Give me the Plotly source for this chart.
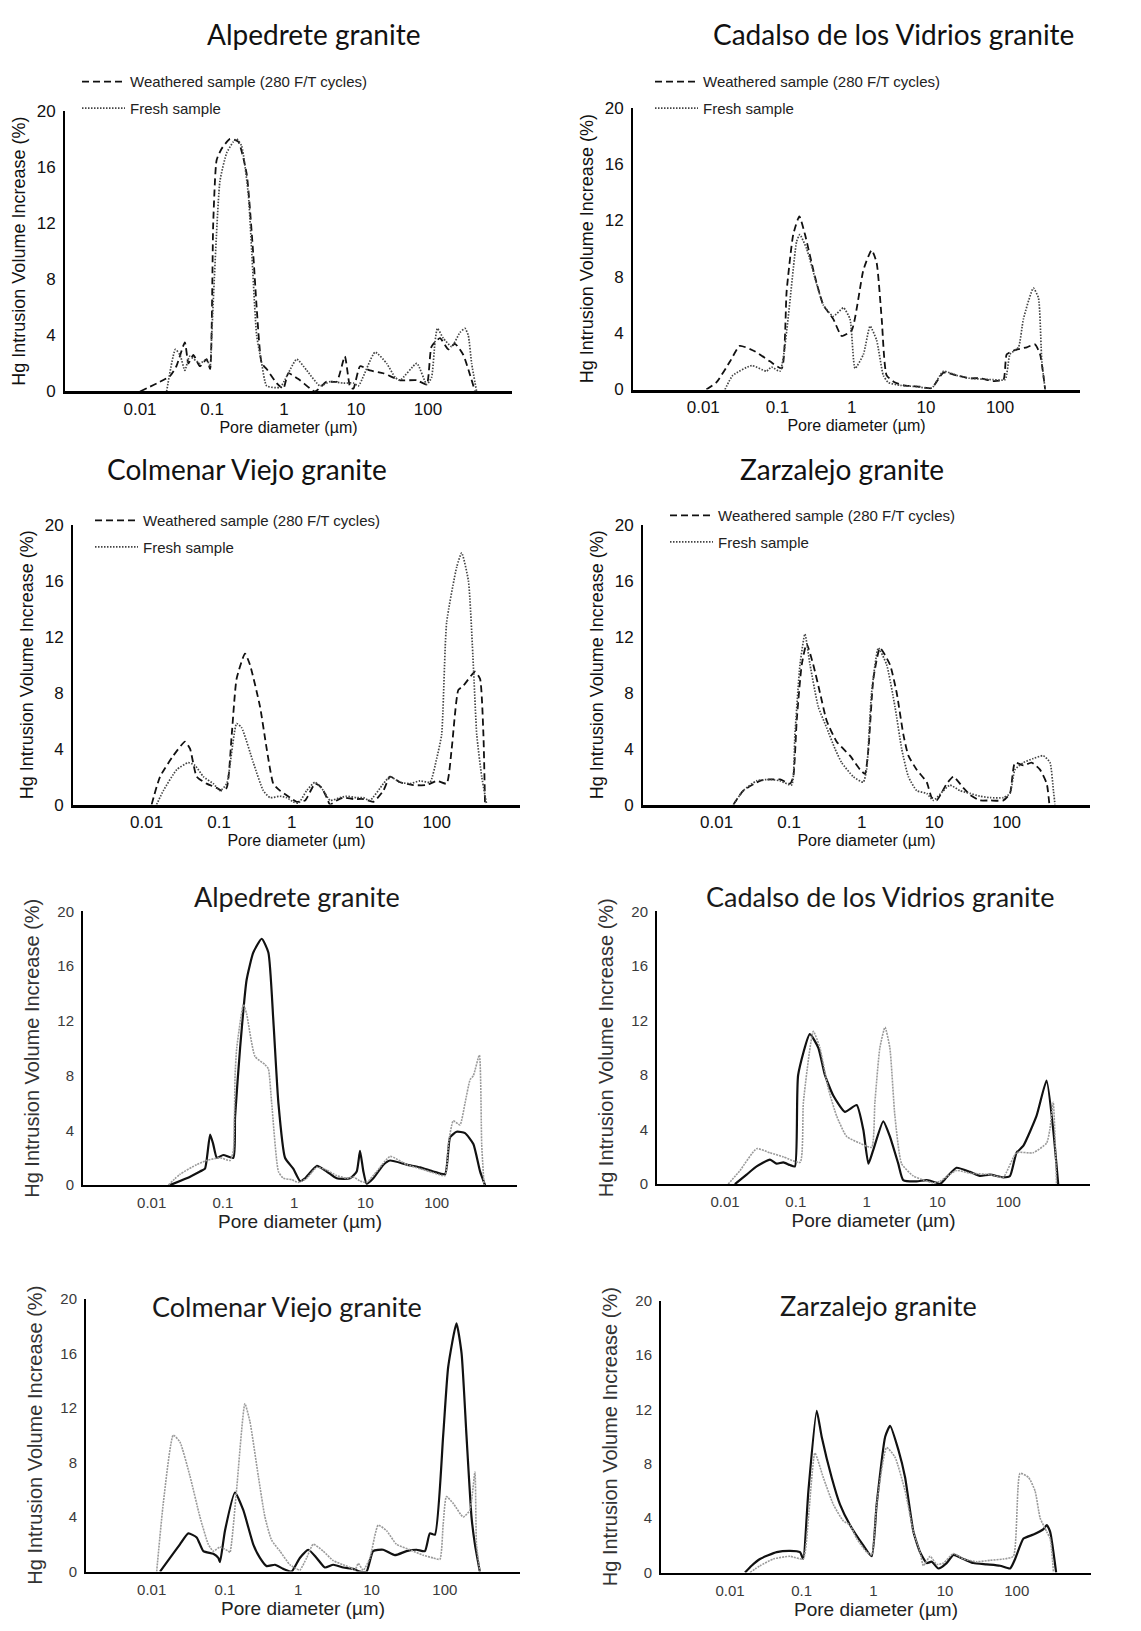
import plotly.graph_objects as go

W, H = 1141, 1631

X_TICKS = [0.01, 0.1, 1, 10, 100]
X_TICKTEXT = ["0.01", "0.1", "1", "10", "100"]
Y_TICKS = [0, 4, 8, 12, 16, 20]
X_LABEL = "Pore diameter (µm)"
Y_LABEL = "Hg Intrusion Volume Increase (%)"
LEG_WEATHERED = "Weathered sample (280 F/T cycles)"
LEG_FRESH = "Fresh sample"

TITLES = ["Alpedrete granite", "Cadalso de los Vidrios granite",
          "Colmenar Viejo granite", "Zarzalejo granite",
          "Alpedrete granite", "Cadalso de los Vidrios granite",
          "Colmenar Viejo granite", "Zarzalejo granite"]

# ---- Panel 1: Alpedrete (top) ----
alp1_w_x = [0.010, 0.026, 0.032, 0.042, 0.047, 0.055, 0.068, 0.084, 0.094, 0.104, 0.116, 0.136, 0.178, 0.232, 0.303, 0.375, 0.417, 0.49, 0.574, 0.79, 0.98, 1.15, 1.67, 2.7, 3.9, 5.4, 7.0, 8.3, 9.2, 11.4, 15.6, 24, 41, 70, 96, 112, 147, 191, 237, 310, 383, 450]
alp1_w_y = [0, 1.1, 1.8, 3.5, 2.0, 2.6, 1.8, 2.3, 1.6, 12, 16.5, 17.3, 18, 17.8, 15.5, 9.7, 6, 2, 1.6, 0.6, 0.2, 1.3, 0.8, 0, 0.7, 0.7, 2.5, 0.3, 0.2, 1.8, 1.5, 1.3, 0.8, 0.8, 0.5, 3.2, 3.8, 3.0, 3.4, 2.6, 1.2, 0]
alp1_f_x = [0.0234, 0.031, 0.036, 0.042, 0.049, 0.068, 0.084, 0.094, 0.099, 0.129, 0.16, 0.198, 0.22, 0.258, 0.32, 0.356, 0.417, 0.49, 0.574, 0.88, 1.5, 2.07, 3.16, 4.35, 6.7, 9.2, 10.8, 18.4, 26.7, 35, 41, 70, 96, 112, 125, 135, 163, 213, 278, 326, 363, 404, 474]
alp1_f_y = [0, 3.0, 2.6, 1.5, 2.5, 2.0, 2.3, 1.8, 4, 15, 17, 17.8, 18, 17.5, 14, 10, 4, 2, 0.4, 0.3, 2.3, 1.5, 0.4, 0.7, 0.6, 0.6, 0.4, 2.8, 2.0, 1.0, 0.8, 2.0, 0.5, 1.0, 3.5, 4.5, 3.8, 3.2, 4.2, 4.5, 4.0, 2.0, 0]

# ---- Panel 2: Cadalso (top) ----
cad1_w_x = [0.011, 0.015, 0.023, 0.031, 0.050, 0.079, 0.114, 0.133, 0.163, 0.197, 0.235, 0.32, 0.415, 0.566, 0.733, 1.0, 1.44, 1.86, 2.17, 2.54, 2.96, 3.84, 5.0, 8.3, 12, 17.2, 26, 39, 54, 81, 111, 123, 159, 229, 295, 346, 405]
cad1_w_y = [0, 0.5, 2.0, 3.1, 2.7, 2.0, 1.5, 7, 11, 12.3, 11, 8, 6, 5, 3.8, 4.2, 8.5, 9.9, 9, 5, 1, 0.5, 0.3, 0.2, 0.1, 1.2, 1.0, 0.8, 0.8, 0.6, 0.7, 2.5, 2.8, 3.0, 3.2, 2.5, 0]
cad1_f_x = [0.0196, 0.025, 0.045, 0.071, 0.083, 0.108, 0.181, 0.2, 0.247, 0.337, 0.415, 0.566, 0.773, 0.95, 1.11, 1.44, 1.77, 2.17, 2.67, 3.12, 4.5, 7.5, 12, 17.2, 26, 39, 81, 117, 136, 177, 206, 281, 329, 365, 405]
cad1_f_y = [0, 1.0, 1.7, 1.3, 1.6, 1.3, 10.5, 11, 10, 7.5, 6, 5.2, 5.8, 5, 1.5, 2.5, 4.5, 3.5, 1, 0.5, 0.3, 0.2, 0.1, 1.3, 1.0, 0.8, 0.7, 0.7, 2.5, 3.0, 5, 7.2, 6.5, 2, 0]

# ---- Panel 3: Colmenar Viejo (top) ----
col1_w_x = [0.0117, 0.0153, 0.0233, 0.0338, 0.0396, 0.049, 0.067, 0.092, 0.108, 0.127, 0.149, 0.174, 0.227, 0.266, 0.366, 0.452, 0.558, 0.69, 0.95, 1.17, 1.53, 2.1, 2.6, 3.04, 3.38, 4.18, 5.16, 7.1, 9.75, 13.4, 18.4, 22.7, 31.2, 47.6, 72.8, 100, 137, 161, 199, 233, 338, 396, 441, 464]
col1_w_y = [0, 2, 3.5, 4.5, 4, 2, 1.5, 1.2, 1.0, 1.2, 5, 9, 10.8, 10, 7, 4, 1.5, 1.0, 0.5, 0.2, 0.3, 1.5, 1.2, 0.5, 0, 0.3, 0.5, 0.4, 0.4, 0.2, 1.0, 2.0, 1.6, 1.4, 1.4, 1.7, 1.5, 4, 8.2, 8.5, 9.5, 9, 5, 0]
col1_f_x = [0.0137, 0.017, 0.026, 0.0376, 0.0465, 0.0605, 0.083, 0.103, 0.127, 0.174, 0.204, 0.296, 0.406, 0.502, 0.69, 0.853, 1.05, 1.24, 1.61, 2.1, 2.74, 3.38, 4.64, 5.74, 7.9, 9.75, 12, 18.4, 22.7, 31.2, 42.8, 58.9, 81, 100, 117, 137, 189, 221, 274, 320, 357, 418, 490]
col1_f_y = [0, 1, 2.5, 3, 2.8, 2, 1.5, 1.0, 1.5, 5.8, 5.5, 3, 1, 0.5, 0.6, 0.5, 0.2, 0.1, 1.0, 1.6, 1.0, 0.3, 0.5, 0.6, 0.5, 0.5, 0.3, 1.5, 2.0, 1.6, 1.5, 1.7, 1.6, 3.3, 5, 13, 17, 18, 16, 10, 5, 2, 0]

# ---- Panel 4: Zarzalejo (top) ----
zar1_w_x = [0.017, 0.0233, 0.0396, 0.0545, 0.0748, 0.103, 0.114, 0.127, 0.149, 0.174, 0.215, 0.266, 0.329, 0.452, 0.69, 0.95, 1.11, 1.24, 1.45, 1.79, 2.46, 3.04, 3.76, 4.41, 5.74, 7.9, 9.25, 10.8, 14.9, 18.4, 25.2, 31.2, 42.8, 58.9, 90, 111, 130, 170, 221, 288, 357, 388]
zar1_w_y = [0, 1, 1.7, 1.8, 1.8, 1.5, 2, 6, 10, 11.5, 10, 8, 6, 4.5, 3.5, 2.5, 2.2, 4, 9, 11.2, 10, 8, 5, 3.5, 2.5, 1.6, 0.5, 0.3, 1.5, 2.0, 1.2, 0.7, 0.3, 0.3, 0.3, 0.8, 3, 2.8, 3, 2.5, 1.5, 0]
zar1_f_x = [0.017, 0.0233, 0.0356, 0.0545, 0.0748, 0.108, 0.12, 0.141, 0.165, 0.194, 0.252, 0.329, 0.428, 0.53, 0.767, 1.05, 1.17, 1.37, 1.7, 2.21, 2.88, 3.56, 4.41, 5.74, 7.9, 9.75, 13.4, 16.5, 22.7, 31.2, 42.8, 58.9, 90, 111, 130, 170, 233, 320, 396, 441, 464]
zar1_f_y = [0, 1, 1.7, 1.8, 1.7, 1.4, 5, 10, 12.2, 10, 7, 5.5, 4, 3, 2, 1.6, 2.5, 8, 11.2, 10, 7, 4, 2, 1.0, 0.8, 0.3, 1.0, 1.4, 1.0, 0.8, 0.6, 0.5, 0.5, 0.8, 2.5, 3, 3.3, 3.5, 3, 1, 0]

# ---- Panel 5: Alpedrete (bottom) ----
alp2_s_x = [0.018, 0.031, 0.0477, 0.056, 0.066, 0.073, 0.082, 0.101, 0.14, 0.148, 0.174, 0.215, 0.267, 0.35, 0.434, 0.51, 0.6, 0.743, 0.97, 1.21, 1.42, 2.07, 2.86, 3.95, 6.08, 7.54, 8.39, 9.35, 10.4, 12.9, 17.9, 22.2, 37.9, 58.3, 89.8, 131, 154, 191, 250, 327, 406, 477]
alp2_s_y = [0, 0.5, 1, 1.2, 3.7, 3, 2, 2.2, 2.0, 5, 10, 15, 17, 18, 17, 12, 6, 2, 1.2, 0.3, 0.5, 1.4, 1, 0.5, 0.5, 1, 2.5, 1, 0.1, 0.5, 1.5, 1.8, 1.5, 1.3, 1.0, 0.8, 3.5, 3.9, 3.8, 3, 1, 0]
alp2_g_x = [0.0171, 0.025, 0.0429, 0.059, 0.091, 0.126, 0.14, 0.148, 0.156, 0.194, 0.215, 0.282, 0.39, 0.434, 0.483, 0.6, 0.705, 0.923, 1.14, 1.5, 2.07, 2.86, 3.95, 5.46, 6.77, 8.39, 10.4, 14.4, 22.2, 37.9, 58.3, 89.8, 131, 146, 171, 212, 250, 294, 327, 397, 428, 462]
alp2_g_y = [0, 0.8, 1.5, 1.8, 2.0, 1.8, 2.5, 8, 10, 13.2, 12.5, 9.4, 8.8, 8.5, 6, 1.0, 0.5, 0.4, 0.2, 0.5, 1.3, 1.1, 0.7, 0.5, 0.6, 0.3, 0.2, 1, 2.1, 1.5, 1.2, 0.9, 0.7, 3, 4.7, 4.4, 6, 7.7, 8, 9.5, 3, 0]

# ---- Panel 6: Cadalso (bottom) ----
cad2_s_x = [0.0138, 0.0202, 0.028, 0.0432, 0.0536, 0.0667, 0.0828, 0.0973, 0.108, 0.158, 0.208, 0.258, 0.338, 0.494, 0.723, 0.898, 1.06, 1.24, 1.72, 2.13, 2.8, 3.29, 5.08, 7.03, 9.73, 10.8, 13.5, 18.6, 28.8, 39.8, 55.1, 84.9, 106, 131, 163, 251, 348, 432, 508]
cad2_s_y = [0, 0.7, 1.3, 1.8, 1.5, 1.6, 1.4, 1.3, 8, 11, 10, 8, 6.5, 5.3, 5.8, 4, 1.5, 2.5, 4.6, 3.5, 1.5, 0.3, 0.2, 0.3, 0.1, 0, 0.5, 1.2, 0.9, 0.6, 0.7, 0.5, 0.6, 2.3, 2.8, 5, 7.6, 4, 0]
cad2_g_x = [0.0111, 0.0163, 0.028, 0.0432, 0.0667, 0.115, 0.128, 0.177, 0.219, 0.288, 0.377, 0.522, 0.805, 1.18, 1.31, 1.54, 1.82, 2.13, 2.51, 3.12, 4.56, 6.31, 8.73, 10.8, 18.6, 28.8, 55.1, 84.9, 131, 225, 348, 387, 432, 481]
cad2_g_y = [0, 1, 2.6, 2.3, 2.0, 1.6, 6, 11.2, 10, 7, 5, 3.5, 3, 2.7, 6, 10, 11.5, 10, 5, 1.5, 0.6, 0.3, 0.1, 0.2, 1, 0.8, 0.7, 0.5, 2.3, 2.3, 3, 4, 6, 0]

# ---- Panel 7: Colmenar Viejo (bottom) ----
col2_s_x = [0.013, 0.0178, 0.0243, 0.0316, 0.0411, 0.0507, 0.0693, 0.0811, 0.0855, 0.1, 0.137, 0.178, 0.243, 0.3, 0.37, 0.481, 0.624, 0.811, 1.05, 1.37, 1.78, 2.31, 3.0, 4.11, 5.62, 6.93, 8.55, 10.5, 14.4, 20.8, 30, 41.1, 53.4, 62.4, 73.1, 94.9, 111, 144, 169, 197, 231, 257, 300]
col2_s_y = [0, 1, 2, 2.8, 2.5, 1.5, 1.3, 1, 0.7, 3, 5.8, 4.5, 2, 1, 0.4, 0.5, 0.2, 0, 1, 1.6, 1.0, 0.3, 0.5, 0.3, 0.2, 0, 0, 1.5, 1.6, 1.2, 1.5, 1.6, 1.5, 2.8, 2.7, 10, 15, 18.2, 16, 10, 4, 2, 0]
col2_g_x = [0.0117, 0.0144, 0.0197, 0.0243, 0.0333, 0.0456, 0.0593, 0.0693, 0.0855, 0.111, 0.117, 0.144, 0.187, 0.219, 0.285, 0.351, 0.433, 0.562, 0.769, 0.949, 1.05, 1.3, 1.6, 2.19, 3.0, 4.11, 5.07, 5.93, 6.58, 7.7, 9.5, 12.3, 16, 21.9, 33.3, 50.7, 69.3, 85.5, 94.9, 105, 130, 178, 219, 257, 270, 300]
col2_g_y = [0, 5, 10, 9.5, 7, 4, 2, 1.5, 1.8, 1.5, 1.4, 6, 12.3, 11, 7, 4, 2.3, 1.5, 0.5, 0.2, 0.1, 1.0, 2.0, 1.5, 0.8, 0.5, 0.3, 0.1, 0.6, 0.1, 1.0, 3.4, 3, 2, 1.6, 1.2, 1.0, 0.9, 3.5, 5.5, 5, 4, 4.5, 7.3, 2, 0]

# ---- Panel 8: Zarzalejo (bottom) ----
zar2_s_x = [0.0162, 0.02, 0.0262, 0.0448, 0.0687, 0.0948, 0.105, 0.124, 0.162, 0.19, 0.262, 0.343, 0.472, 0.724, 0.948, 1.11, 1.46, 1.71, 2.24, 2.77, 3.62, 4.48, 5.55, 6.51, 8.07, 10.5, 13.1, 18, 24.8, 38.1, 58.5, 80.7, 94.8, 124, 171, 236, 262, 292, 354]
zar2_s_y = [0, 0.5, 1.0, 1.5, 1.6, 1.5, 1.0, 6, 11.9, 10, 7, 5, 3.5, 2, 1.2, 5, 10, 10.8, 9, 7, 3, 1.5, 0.7, 0.8, 0.3, 0.7, 1.3, 1.0, 0.7, 0.6, 0.5, 0.3, 1.0, 2.5, 2.8, 3.2, 3.5, 3, 0]
zar2_g_x = [0.019, 0.0262, 0.0403, 0.0687, 0.105, 0.124, 0.153, 0.2, 0.277, 0.381, 0.472, 0.585, 0.807, 0.948, 1.11, 1.53, 2.0, 2.77, 3.62, 4.48, 4.99, 6.18, 7.65, 9.48, 13.1, 18, 27.7, 42.5, 65.2, 89.8, 111, 146, 180, 212, 262, 292, 325]
zar2_g_y = [0, 0.5, 1, 1.2, 1.0, 4, 8.8, 7, 5, 3.8, 3.5, 2.5, 1.5, 1.3, 5, 9.2, 8.5, 6, 3, 1.5, 0.5, 1.2, 0.6, 0.7, 1.4, 1.0, 0.8, 0.9, 1.0, 1.2, 7.3, 7, 6, 4, 3, 2.5, 0]

SERIES = [
    ((alp1_w_x, alp1_w_y), (alp1_f_x, alp1_f_y)),
    ((cad1_w_x, cad1_w_y), (cad1_f_x, cad1_f_y)),
    ((col1_w_x, col1_w_y), (col1_f_x, col1_f_y)),
    ((zar1_w_x, zar1_w_y), (zar1_f_x, zar1_f_y)),
    ((alp2_s_x, alp2_s_y), (alp2_g_x, alp2_g_y)),
    ((cad2_s_x, cad2_s_y), (cad2_g_x, cad2_g_y)),
    ((col2_s_x, col2_s_y), (col2_g_x, col2_g_y)),
    ((zar2_s_x, zar2_s_y), (zar2_g_x, zar2_g_y)),
]

# layout geometry (pixels): left, right, top(y=20), bottom(y=0), x log range, title centre, legend origin
PANELS = [
    dict(l=65, r=512, t=103, b=387, xr=[-3.042, 3.167], tc=(313, 25), top=True, leg=(77, 57)),
    dict(l=633, r=1080, t=100, b=385, xr=[-2.947, 3.077], tc=(893, 25), top=True, leg=(650, 57)),
    dict(l=73, r=520, t=522, b=805, xr=[-3.016, 3.149], tc=(247, 465), top=True, leg=(90, 501)),
    dict(l=643, r=1090, t=522, b=805, xr=[-3.016, 3.149], tc=(842, 465), top=True, leg=(665, 496)),
    dict(l=83, r=517, t=913, b=1190, xr=[-2.964, 3.127], tc=(297, 898), top=False),
    dict(l=657, r=1090, t=913, b=1189, xr=[-2.96, 3.155], tc=(880, 898), top=False),
    dict(l=86, r=520, t=1305, b=1581, xr=[-2.896, 3.025], tc=(287, 1313), top=False),
    dict(l=661, r=1091, t=1307, b=1582, xr=[-2.962, 3.035], tc=(878, 1312), top=False),
]

ARIAL = "Liberation Sans, Arial, sans-serif"
CALIBRI = "Lato, Carlito, Calibri, sans-serif"

fig = go.Figure()
layout = dict(width=W, height=H, margin=dict(l=0, r=0, t=0, b=0),
              paper_bgcolor="white", plot_bgcolor="white", annotations=[])

for i, (p, (s1, s2)) in enumerate(zip(PANELS, SERIES)):
    n = "" if i == 0 else str(i + 1)
    top = p["top"]
    tick_col = "#111" if top else "#3a3a3a"
    layout["xaxis" + n] = dict(
        domain=[p["l"] / W, p["r"] / W], anchor="y" + n, type="log", range=p["xr"],
        tickvals=X_TICKS, ticktext=X_TICKTEXT, ticks="", showgrid=False, zeroline=False,
        showline=True, linecolor="black", linewidth=2.5 if top else 2,
        ticklabelstandoff=0 if top else 3,
        tickfont=dict(family=ARIAL, size=17 if top else 15, color=tick_col),
        title=dict(text=X_LABEL, font=dict(family=ARIAL, size=16 if top else 19, color="#111" if top else "#222"),
                   standoff=1 if top else 4),
        fixedrange=True)
    layout["yaxis" + n] = dict(
        domain=[1 - p["b"] / H, 1 - p["t"] / H], anchor="x" + n, range=[0, 20],
        tickvals=Y_TICKS, ticks="", showgrid=False, zeroline=False,
        showline=True, linecolor="black", linewidth=2,
        ticklabelstandoff=4,
        tickfont=dict(family=ARIAL, size=17 if top else 15, color=tick_col),
        title=dict(text=Y_LABEL, font=dict(family=ARIAL, size=18 if top else 20, color="#111" if top else "#333"),
                   standoff=6 if top else 12),
        fixedrange=True)

    (wx, wy), (fx, fy) = s1, s2
    if top:
        legname = "legend" + n
        fig.add_trace(go.Scatter(x=wx, y=wy, mode="lines", name=LEG_WEATHERED,
                                 line=dict(color="#111", width=1.8, dash="7px,4px", shape="spline", smoothing=0.5),
                                 xaxis="x" + n, yaxis="y" + n, legend=legname,
                                 legendgroup="w" + n, showlegend=True))
        fig.add_trace(go.Scatter(x=fx, y=fy, mode="lines", name=LEG_FRESH,
                                 line=dict(color="#444", width=1.7, dash="1.5px,1.5px", shape="spline", smoothing=0.5),
                                 xaxis="x" + n, yaxis="y" + n, legend=legname,
                                 legendgroup="f" + n, showlegend=True))
        layout[legname] = dict(x=p["leg"][0] / W, y=1 - p["leg"][1] / H, xanchor="left", yanchor="top",
                               bgcolor="rgba(0,0,0,0)", borderwidth=0, traceorder="grouped",
                               tracegroupgap=4, itemwidth=43,
                               font=dict(family=ARIAL, size=15, color="#222"))
    else:
        fig.add_trace(go.Scatter(x=wx, y=wy, mode="lines", name="Weathered",
                                 line=dict(color="#111", width=2.2, shape="spline", smoothing=0.5),
                                 xaxis="x" + n, yaxis="y" + n, showlegend=False))
        fig.add_trace(go.Scatter(x=fx, y=fy, mode="lines", name="Fresh",
                                 line=dict(color="#9a9a9a", width=1.6, dash="2px,1px", shape="spline", smoothing=0.5),
                                 xaxis="x" + n, yaxis="y" + n, showlegend=False))

    layout["annotations"].append(dict(
        text=TITLES[i], x=p["tc"][0] / W, y=1 - p["tc"][1] / H, xref="paper", yref="paper",
        xanchor="center", yanchor="middle", showarrow=False,
        font=dict(family=CALIBRI, size=28 if top else 27, color="#111" if top else "#1a1a1a")))

fig.update_layout(**layout)
fig.write_html("out.html")
